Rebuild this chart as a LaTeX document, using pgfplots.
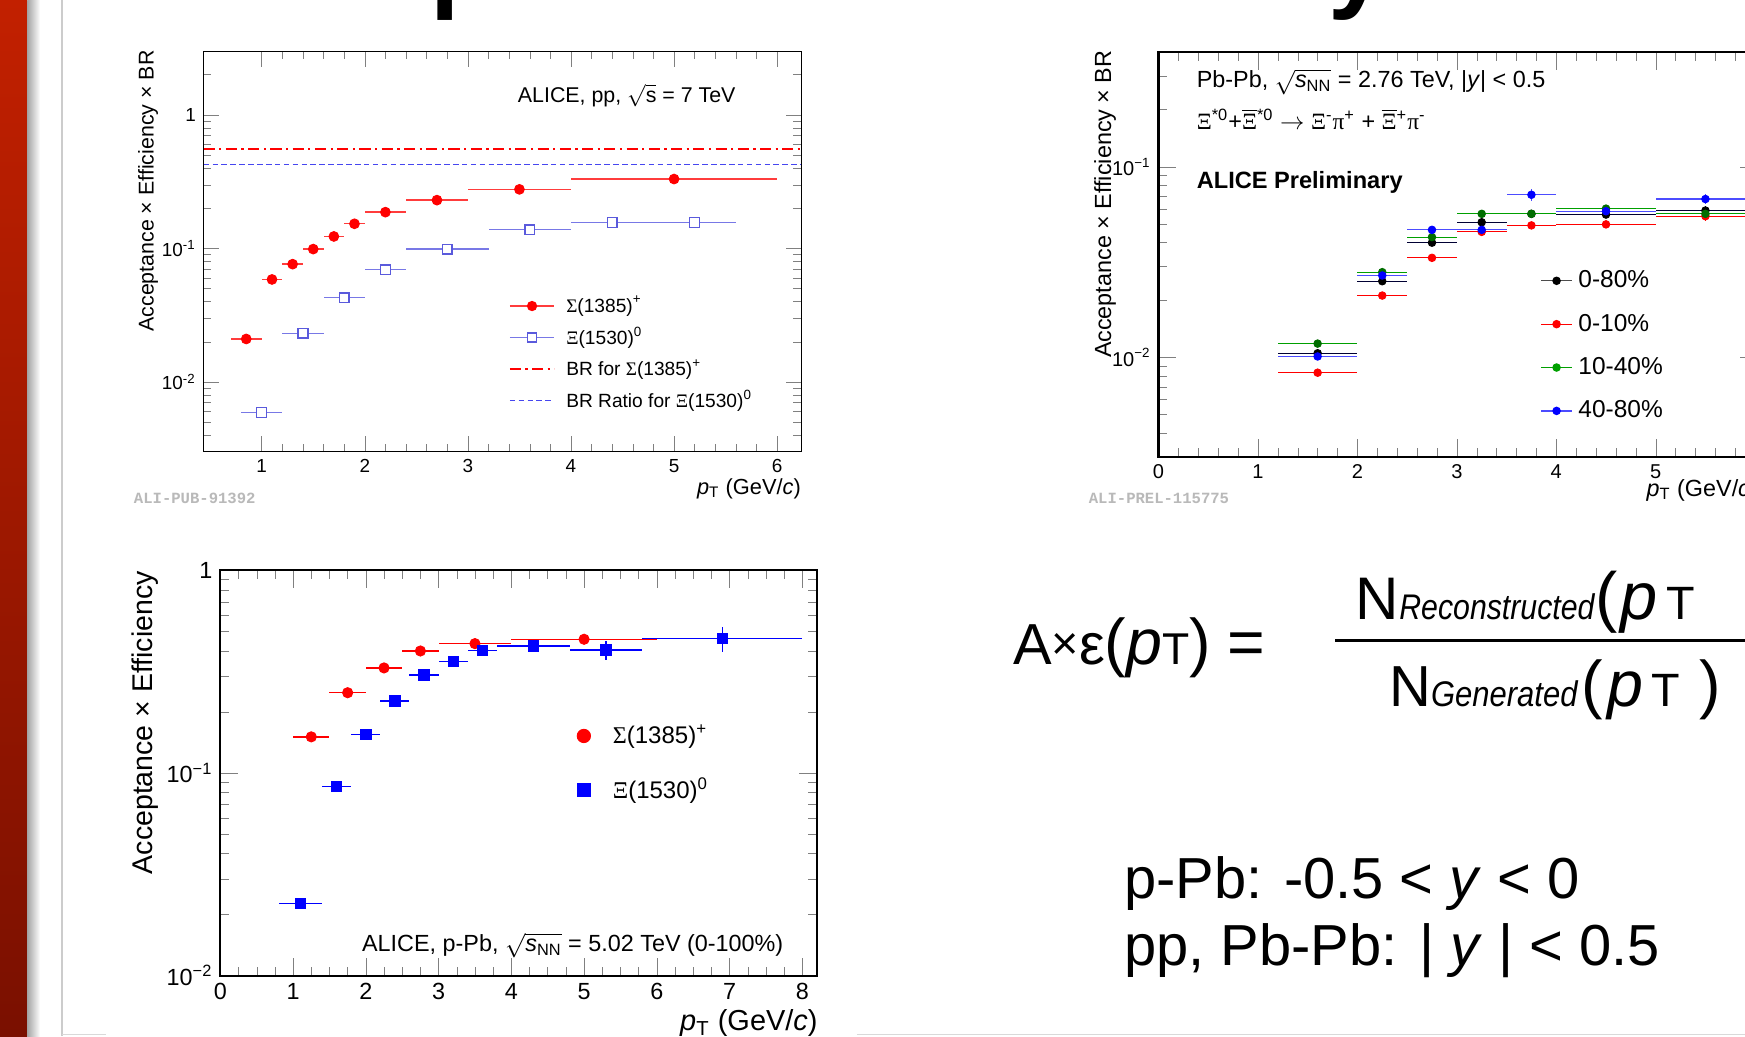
\documentclass[border=0pt]{standalone}
\usepackage{pgfplots}
\pgfplotsset{compat=1.18}
\usepackage{pgfplotstable}
\usepackage{amsmath}
\usepackage{graphicx}
\usepackage{fontspec}
\setmainfont{Liberation Sans}
\newfontfamily\monofont{Liberation Mono}
\newfontfamily\grk{Liberation Serif}
\newcommand{\fs}[1]{\fontsize{#1}{#1}\selectfont}

\definecolor{sigline}{RGB}{255,60,60}
\definecolor{xiblue}{RGB}{90,90,220}
\definecolor{xiline}{RGB}{120,120,230}
\definecolor{brblue}{RGB}{70,70,240}
\definecolor{dgreen}{RGB}{0,110,0}
\definecolor{lgreen}{RGB}{0,160,0}
\definecolor{barTop}{RGB}{194,32,0}
\definecolor{barBot}{RGB}{122,16,0}

\pgfplotstableread{
x y ex ey
0.85 0.0210 0.15 0.0004
1.1 0.0586 0.1 0.0008
1.3 0.0763 0.1 0.001
1.5 0.0989 0.1 0.0012
1.7 0.123 0.1 0.0015
1.9 0.153 0.1 0.002
2.2 0.187 0.2 0.002
2.7 0.230 0.3 0.003
3.5 0.277 0.5 0.003
5.0 0.331 1.0 0.004
}\tlsig
\pgfplotstableread{
x y ex ey
1.0 0.00592 0.2 0.0003
1.4 0.0232 0.2 0.0010
1.8 0.0427 0.2 0.0018
2.2 0.0692 0.2 0.0028
2.8 0.0989 0.4 0.0035
3.6 0.138 0.4 0.005
4.4 0.156 0.4 0.006
5.2 0.156 0.4 0.006
}\tlxi
\pgfplotstableread{
x ex a ea b eb c ec d ed
1.6 0.4 0.0105 0.0003 0.0083 0.0003 0.0118 0.0003 0.0101 0.0003
2.25 0.25 0.0251 0.0006 0.0211 0.0006 0.0280 0.0006 0.0269 0.0006
2.75 0.25 0.0400 0.001 0.0333 0.001 0.0428 0.001 0.0467 0.001
3.25 0.25 0.0512 0.0015 0.0456 0.0015 0.0567 0.0015 0.0467 0.0015
3.75 0.25 0.0567 0.002 0.0493 0.002 0.0567 0.002 0.0714 0.005
4.5 0.5 0.0562 0.002 0.0499 0.002 0.0604 0.002 0.0585 0.002
5.5 0.5 0.0590 0.003 0.0551 0.003 0.0567 0.003 0.0678 0.004
}\trdata
\pgfplotstableread{
x y ex ey
1.25 0.1508 0.25 0.002
1.75 0.249 0.25 0.003
2.25 0.330 0.25 0.004
2.75 0.400 0.25 0.005
3.5 0.435 0.5 0.006
5.0 0.457 1.0 0.008
}\blsig
\pgfplotstableread{
x y ex ey
1.1 0.0227 0.3 0.0005
1.6 0.0858 0.2 0.002
2.0 0.155 0.2 0.003
2.4 0.227 0.2 0.004
2.8 0.305 0.2 0.006
3.2 0.356 0.2 0.012
3.6 0.403 0.2 0.02
4.3 0.424 0.5 0.02
5.3 0.405 0.5 0.045
6.9 0.461 1.1 0.065
}\blxi

\begin{document}
\begin{tikzpicture}
\useasboundingbox (0,0) rectangle (784pt,465.5pt);
\clip (0,0) rectangle (784pt,465.5pt);
\fill[white] (0,0) rectangle (784pt,465.5pt);
% slide decorations
\shade[top color=barTop, bottom color=barBot] (0,0) rectangle (12.3pt,465.5pt);
\shade[left color=black!35, right color=white] (12.3pt,0) rectangle (18pt,465.5pt);
\draw[gray!40, line width=0.8pt] (27.9pt,0) -- (27.9pt,465.5pt);
\draw[gray!30, line width=0.8pt] (28pt,0.75pt) -- (47.5pt,0.75pt);
\draw[gray!30, line width=0.8pt] (385pt,0.75pt) -- (784pt,0.75pt);
% title (cut by the top edge)
\node[anchor=base west, inner sep=0pt, font=\bfseries\fs{47.5}] at (79.5pt,466pt) {Acceptance x Efficiency};

% ---------------- top left -----------------
\begin{axis}[scale only axis, anchor=south west, tick align=inside, tick pos=both, ymode=log,
  legend cell align=left,
  at={(91.5pt,262.5pt)}, width=268.5pt, height=180pt,
  xmin=0.437, xmax=6.234, ymin=0.003, ymax=3,
  xtick={1,2,3,4,5,6}, minor x tick num=4,
  ytick={0.01,0.1,1}, yticklabels={10\textsuperscript{-2},10\textsuperscript{-1},1},
  minor ytick={0.004,0.005,0.006,0.007,0.008,0.009,0.02,0.03,0.04,0.05,0.06,0.07,0.08,0.09,0.2,0.3,0.4,0.5,0.6,0.7,0.8,0.9,2,3},
  major tick length=7pt, minor tick length=3.5pt,
  axis line style={line width=0.6pt},
  tick label style={font=\fs{8.5}},
  legend style={at={(0.51,0.395)}, anchor=north west, draw=none, fill=none, inner sep=0pt,
    font=\fs{8.6}, row sep=3pt, column sep=4pt, nodes={inner sep=1pt}},
  legend image code/.code={\draw[mark repeat=2,mark phase=2,#1] plot coordinates {(0pt,0pt) (10pt,0pt) (20pt,0pt)};},
  /pgf/number format/assume math mode=true,
]
\addplot[forget plot, red, line width=0.8pt, dash pattern=on 5pt off 2pt on 1pt off 2pt] coordinates {(0.437,0.556) (6.234,0.556)};
\addplot[forget plot, brblue, line width=0.8pt, dash pattern=on 2.5pt off 1.5pt] coordinates {(0.437,0.426) (6.234,0.426)};
\addplot[forget plot, only marks, mark=*, mark size=2.2pt, red, mark options={fill=red, draw=red},
  error bars/.cd, x dir=both, x explicit, y dir=both, y explicit, error mark=none,
  error bar style={sigline, line width=0.6pt}] table[x=x, y=y, x error=ex, y error=ey] {\tlsig};
\addplot[forget plot, only marks, mark=square*, mark size=2.2pt, xiblue, mark options={fill=white, draw=xiblue, line width=0.6pt},
  error bars/.cd, x dir=both, x explicit, y dir=both, y explicit, error mark=none,
  error bar style={xiline, line width=0.6pt}] table[x=x, y=y, x error=ex, y error=ey] {\tlxi};
\addlegendimage{sigline, line width=0.6pt, mark=*, mark size=2pt, mark options={fill=red, draw=red}}
\addlegendentry{{\grk Σ}(1385)\textsuperscript{+}}
\addlegendimage{xiline, line width=0.6pt, mark=square*, mark size=2pt, mark options={fill=white, draw=xiblue}}
\addlegendentry{{\grk Ξ}(1530)\textsuperscript{0}}
\addlegendimage{red, line width=0.8pt, dash pattern=on 5pt off 2pt on 1pt off 2pt}
\addlegendentry{BR for {\grk Σ}(1385)\textsuperscript{+}}
\addlegendimage{brblue, line width=0.8pt, dash pattern=on 2.5pt off 1.5pt}
\addlegendentry{BR Ratio for {\grk Ξ}(1530)\textsuperscript{0}}
\end{axis}
\node[anchor=base west, inner sep=0pt, font=\fs{9.6}] at (232.5pt,419.5pt) {ALICE, pp, $\sqrt{\text{s}}$ = 7 TeV};
\node[rotate=90, anchor=east, inner sep=0pt, font=\fs{9.6}] at (66.5pt,443pt) {Acceptance × Efficiency × BR};
\node[anchor=base east, inner sep=0pt, font=\fs{9.8}] at (360pt,243.5pt) {\textit{p}\textsubscript{T} (GeV/\textit{c})};
\node[anchor=west, inner sep=0pt, text=gray!55, font=\monofont\bfseries\fs{7}] at (60pt,241.5pt) {ALI-PUB-91392};

% ---------------- top right -----------------
\begin{axis}[scale only axis, anchor=south west, tick align=inside, tick pos=both, ymode=log,
  legend cell align=left,
  at={(520.5pt,260.25pt)}, width=269.4pt, height=181.75pt,
  xmin=0, xmax=6.03, ymin=0.003, ymax=0.4,
  xtick={0,1,2,3,4,5,6}, minor x tick num=4,
  ytick={0.01,0.1}, yticklabels={10\textsuperscript{−2},10\textsuperscript{−1}},
  minor ytick={0.004,0.005,0.006,0.007,0.008,0.009,0.02,0.03,0.04,0.05,0.06,0.07,0.08,0.09,0.2,0.3},
  major tick length=8pt, minor tick length=4pt,
  axis line style={line width=1pt},
  tick label style={font=\fs{9}},
  legend style={at={(0.636,0.467)}, anchor=north west, draw=none, fill=none, inner sep=0pt,
    font=\fs{11}, row sep=8.3pt, column sep=1.5pt, nodes={inner sep=1pt}},
  legend image code/.code={\draw[mark repeat=2,mark phase=2,#1] plot coordinates {(0pt,0pt) (7pt,0pt) (14pt,0pt)};},
  /pgf/number format/assume math mode=true,
]
\addplot[forget plot, only marks, mark=*, mark size=1.7pt, black,
  error bars/.cd, x dir=both, x explicit, y dir=both, y explicit, error mark=none,
  error bar style={black!80!blue, line width=0.5pt}] table[x=x, y=a, x error=ex, y error=ea] {\trdata};
\addplot[forget plot, only marks, mark=*, mark size=1.7pt, red,
  error bars/.cd, x dir=both, x explicit, y dir=both, y explicit, error mark=none,
  error bar style={red, line width=0.5pt}] table[x=x, y=b, x error=ex, y error=eb] {\trdata};
\addplot[forget plot, only marks, mark=*, mark size=1.7pt, dgreen,
  error bars/.cd, x dir=both, x explicit, y dir=both, y explicit, error mark=none,
  error bar style={lgreen, line width=0.5pt}] table[x=x, y=c, x error=ex, y error=ec] {\trdata};
\addplot[forget plot, only marks, mark=*, mark size=1.7pt, blue,
  error bars/.cd, x dir=both, x explicit, y dir=both, y explicit, error mark=none,
  error bar style={blue!70, line width=0.5pt}] table[x=x, y=d, x error=ex, y error=ed] {\trdata};
\addlegendimage{black!70, line width=0.6pt, mark=*, mark size=1.6pt, mark options={fill=black, draw=black}}
\addlegendentry{0-80\%}
\addlegendimage{red, line width=0.6pt, mark=*, mark size=1.6pt}
\addlegendentry{0-10\%}
\addlegendimage{lgreen, line width=0.6pt, mark=*, mark size=1.6pt}
\addlegendentry{10-40\%}
\addlegendimage{blue!70, line width=0.6pt, mark=*, mark size=1.6pt, mark options={fill=blue, draw=blue}}
\addlegendentry{40-80\%}
\end{axis}
\node[anchor=base west, inner sep=0pt, font=\fs{10.5}] at (537.5pt,426pt) {Pb-Pb, $\sqrt{\text{\textit{s}}_{\text{NN}}}$ = 2.76 TeV, |\textit{y}| < 0.5};
\node[anchor=base west, inner sep=0pt, font=\fs{10.5}] at (537.5pt,407.5pt) {{\grk Ξ}\textsuperscript{*0}+$\overline{\text{\grk Ξ}}$\textsuperscript{*0} $\rightarrow$ {\grk Ξ}\textsuperscript{-}{\grk π}\textsuperscript{+} + $\overline{\text{\grk Ξ}}$\textsuperscript{+}{\grk π}\textsuperscript{-}};
\node[anchor=base west, inner sep=0pt, font=\bfseries\fs{10.6}] at (537.5pt,381pt) {ALICE Preliminary};
\node[rotate=90, anchor=east, inner sep=0pt, font=\fs{10.5}] at (496.5pt,443pt) {Acceptance × Efficiency × BR};
\node[anchor=base east, inner sep=0pt, font=\fs{10.5}] at (789.9pt,242.5pt) {\textit{p}\textsubscript{T} (GeV/\textit{c})};
\node[anchor=west, inner sep=0pt, text=gray!55, font=\monofont\bfseries\fs{7}] at (489pt,241.5pt) {ALI-PREL-115775};

% ---------------- bottom left -----------------
\begin{axis}[scale only axis, anchor=south west, tick align=inside, tick pos=both, ymode=log,
  legend cell align=left,
  at={(99pt,27.15pt)}, width=268pt, height=182.1pt,
  xmin=0, xmax=8.2, ymin=0.01, ymax=1,
  xtick={0,1,2,3,4,5,6,7,8}, minor x tick num=3,
  ytick={0.01,0.1,1}, yticklabels={10\textsuperscript{−2},10\textsuperscript{−1},1},
  minor ytick={0.02,0.03,0.04,0.05,0.06,0.07,0.08,0.09,0.2,0.3,0.4,0.5,0.6,0.7,0.8,0.9},
  major tick length=8pt, minor tick length=4pt,
  axis line style={line width=1pt},
  tick label style={font=\fs{10.5}},
  legend style={at={(0.59,0.625)}, anchor=north west, draw=none, fill=none, inner sep=0pt,
    font=\fs{10.8}, row sep=12pt, nodes={inner sep=1pt}},
  legend image code/.code={\path[draw=none, fill=none] (0pt,0pt) -- (17pt,0pt); \draw[#1, draw=none] plot coordinates {(5pt,0pt)};},
  /pgf/number format/assume math mode=true,
]
\addplot[forget plot, only marks, mark=*, mark size=2.3pt, red, mark options={fill=red, draw=red},
  error bars/.cd, x dir=both, x explicit, y dir=both, y explicit, error mark=none,
  error bar style={red, line width=0.6pt}] table[x=x, y=y, x error=ex, y error=ey] {\blsig};
\addplot[forget plot, only marks, mark=square*, mark size=2.3pt, blue, mark options={fill=blue, draw=blue},
  error bars/.cd, x dir=both, x explicit, y dir=both, y explicit, error mark=none,
  error bar style={blue, line width=0.6pt}] table[x=x, y=y, x error=ex, y error=ey] {\blxi};
\addlegendimage{red, mark=*, mark size=3pt, mark options={fill=red, draw=red}}
\addlegendentry{{\grk Σ}(1385)\textsuperscript{+}}
\addlegendimage{blue, mark=square*, mark size=3pt, mark options={fill=blue, draw=blue}}
\addlegendentry{{\grk Ξ}(1530)\textsuperscript{0}}
\end{axis}
\node[anchor=base west, inner sep=0pt, font=\fs{10.5}] at (162.5pt,38pt) {ALICE, p-Pb, $\sqrt{\text{\textit{s}}_{\text{NN}}}$ = 5.02 TeV (0-100\%)};
\node[rotate=90, anchor=east, inner sep=0pt, font=\fs{12.8}] at (65pt,209pt) {Acceptance × Efficiency};
\node[anchor=base east, inner sep=0pt, font=\fs{13}] at (367.5pt,2.5pt) {\textit{p}\textsubscript{T} (GeV/\textit{c})};

% ---------------- formula -----------------
\node[anchor=base west, inner sep=0pt] at (455pt,166.75pt) {\fs{26}A\raisebox{0.1em}{\fs{21}×}ε\fs{29}(\textit{p}\fs{20}T\fs{29})\hspace{0.25em}=};
\node[anchor=base west, inner sep=0pt] at (609pt,187pt) {\fs{27}N\scalebox{0.85}[1]{\fs{16}\textit{Reconstructed}}\fs{30}(\hspace{0.05em}\textit{p}\hspace{0.12em}\fs{21}T};
\draw[line width=1.5pt] (600pt,177.75pt) -- (790pt,177.75pt);
\node[anchor=base west, inner sep=0pt] at (624pt,148pt) {\fs{26}N\scalebox{0.87}[1]{\fs{16}\textit{Generated}}\hspace{0.05em}\fs{29}(\hspace{0.08em}\textit{p}\hspace{0.12em}\fs{21}T\fs{29}\hspace{0.3em})};
\node[anchor=base west, inner sep=0pt, font=\fs{26}] at (505pt,62pt) {p-Pb: -0.5 < \textit{y} < 0};
\node[anchor=base west, inner sep=0pt, font=\fs{26}] at (505pt,31.5pt) {pp, Pb-Pb: | \textit{y} | < 0.5};
\end{tikzpicture}
\end{document}
